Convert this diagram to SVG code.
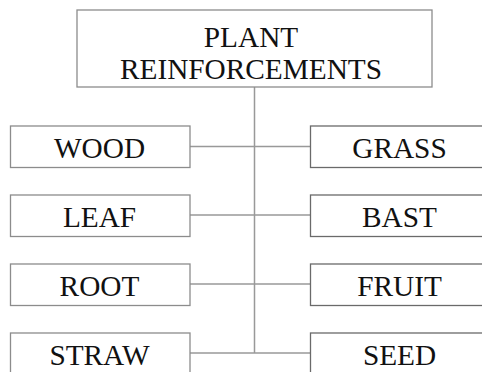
<svg xmlns="http://www.w3.org/2000/svg" width="482" height="372" viewBox="0 0 482 372">
<style>
.box{fill:#fff;stroke:#8c8c8c;stroke-width:1.3}
.rbox{fill:#fff;stroke:#6a6a6a;stroke-width:1.3}
.t{font-family:"Liberation Serif","Times New Roman",serif;font-size:29.3px;fill:#111;text-anchor:middle}
.c{stroke:#999;stroke-width:1.5;fill:none}
</style>
<rect width="482" height="372" fill="#fff"/>
<g id="connectors">
<line class="c" x1="254.5" y1="87" x2="254.5" y2="353"/>
<line class="c" x1="190" y1="146.5" x2="310" y2="146.5"/>
<line class="c" x1="190" y1="215" x2="310" y2="215"/>
<line class="c" x1="190" y1="284" x2="310" y2="284"/>
<line class="c" x1="190" y1="353" x2="310" y2="353"/>
</g>
<g id="plant-reinforcements">
<rect class="box" x="77" y="10" width="355" height="77"/>
<text class="t" x="251" y="47">PLANT</text>
<text class="t" x="251" y="78.5">REINFORCEMENTS</text>
</g>
<g id="wood"><rect class="box" x="10.5" y="126" width="179.5" height="41.5"/><text class="t" x="99.5" y="158">WOOD</text></g>
<g id="leaf"><rect class="box" x="10.5" y="195" width="179.5" height="41.5"/><text class="t" x="99.5" y="227">LEAF</text></g>
<g id="root"><rect class="box" x="10.5" y="264" width="179.5" height="41.5"/><text class="t" x="99.5" y="296">ROOT</text></g>
<g id="straw"><rect class="box" x="10.5" y="333" width="179.5" height="41.5"/><text class="t" x="99.5" y="364.5">STRAW</text></g>
<g id="grass"><rect class="rbox" x="310.5" y="126" width="179.5" height="41.5"/><text class="t" x="399.5" y="158">GRASS</text></g>
<g id="bast"><rect class="rbox" x="310.5" y="195" width="179.5" height="41.5"/><text class="t" x="399.5" y="227">BAST</text></g>
<g id="fruit"><rect class="rbox" x="310.5" y="264" width="179.5" height="41.5"/><text class="t" x="399.5" y="296">FRUIT</text></g>
<g id="seed"><rect class="rbox" x="310.5" y="333" width="179.5" height="41.5"/><text class="t" x="399.5" y="364.5">SEED</text></g>
</svg>
